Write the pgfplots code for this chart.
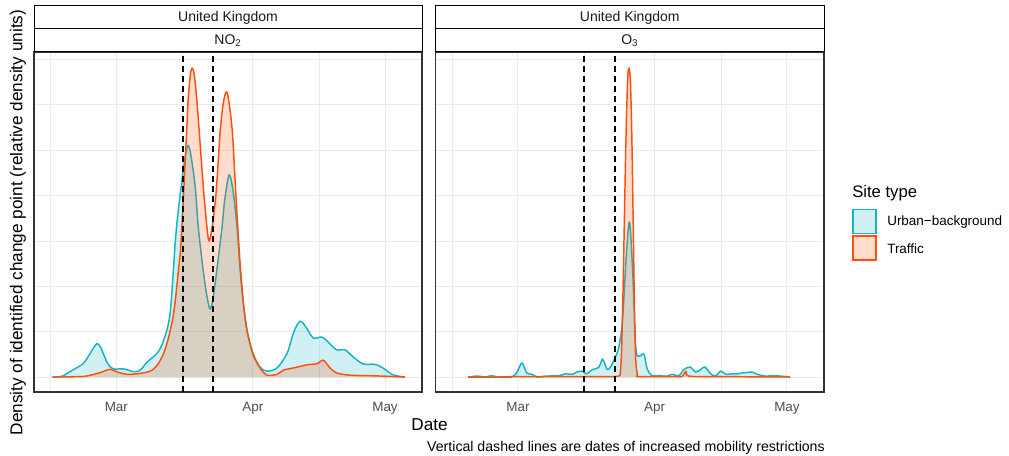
\documentclass[border=0pt]{standalone}
\usepackage{fontspec}
\setmainfont{Liberation Sans}
\usepackage{pgfplots}
\pgfplotsset{compat=1.18}
\usepackage{pgfplotstable}

\definecolor{cyanline}{RGB}{20,180,196}
\definecolor{orangeline}{RGB}{255,80,10}
\definecolor{gridc}{RGB}{235,235,235}
\definecolor{borderc}{RGB}{51,51,51}
\definecolor{tickc}{RGB}{77,77,77}
\definecolor{stripc}{RGB}{26,26,26}

% x = days since 1 March 2020, y = relative density
\pgfplotstableread{
x y
-14.5 0
-12.3 0.02
-10 0.15
-7.5 0.3
-5.9 0.53
-4.5 0.73
-3.6 0.66
-2 0.3
-0.7 0.18
1.6 0.18
3.9 0.12
5.4 0.15
7 0.33
9.3 0.53
10.7 0.8
12.2 1.4
13.4 3.0
14.1 3.7
15.2 4.56
15.8 4.95
16.3 5.1
16.9 4.9
17.9 4.2
18.6 3.3
19.7 2.36
20.6 1.76
21.3 1.5
22 1.76
23.1 2.58
24 3.3
24.6 3.9
25.6 4.45
26.5 4.1
27.4 3.3
28.1 2.36
28.8 1.63
29.7 1.03
31 0.53
32.6 0.22
34.2 0.13
36.5 0.2
38.8 0.53
40.2 0.97
41.7 1.23
43.2 1.08
44.7 0.86
46.7 0.88
48.1 0.77
50 0.6
51.9 0.6
53.7 0.45
56 0.29
58.7 0.28
60.5 0.2
62.8 0.05
65.5 0
}\noUrban

\pgfplotstableread{
x y
-14.5 0
-8 0.01
-5.9 0.04
-3.6 0.1
-1.4 0.17
0.2 0.11
2.5 0.06
5.4 0.08
8.1 0.15
10 0.37
11.5 0.74
13 1.4
14.1 2.36
14.7 3.0
15.9 5.28
16.3 6.1
16.8 6.65
17.2 6.8
17.7 6.65
18.4 5.95
19.5 4.5
20.2 3.68
21.1 3.0
22.5 3.9
23.6 5.44
24.4 6.1
25.2 6.25
26.3 5.44
27.2 3.9
28.1 2.5
29 1.5
29.7 1.0
31 0.5
32.6 0.2
34.2 0.04
36.5 0.06
37.9 0.15
40.2 0.2
42.4 0.25
44 0.28
45.5 0.29
47 0.37
48.5 0.2
50 0.09
53 0.04
57 0.03
60.5 0.02
65.5 0
}\noTraffic

\pgfplotstableread{
x y
-11.3 0
-9.3 0.02
-7.3 0
-6.1 0.03
-4.3 0
-1.4 0
-0.2 0.11
0.9 0.31
2.0 0.09
3.2 0.06
4.3 0
6.3 0.02
9.3 0.03
10.8 0.07
12.3 0.06
13.4 0.11
14.5 0.13
15.6 0.07
16.8 0.16
18.3 0.21
19.2 0.39
20.2 0.17
20.9 0.21
22 0.42
22.9 0.67
23.7 1.25
24.6 2.72
25.3 3.41
26.0 2.35
26.7 0.67
27.3 0.46
27.9 0.48
28.6 0.50
29.3 0.18
30.4 0.03
32 0.03
33.8 0.02
34.9 0.06
36.5 0.03
37.6 0.16
39 0.22
40.3 0.11
41.5 0.17
42.4 0.22
43.8 0.06
44.9 0.03
46 0.13
47.2 0.06
48.5 0.07
49.7 0.07
50.8 0.09
51.9 0.1
53.1 0.11
54.2 0.06
56.2 0.02
57.6 0.03
59.6 0.02
61.7 0
}\oUrban

\pgfplotstableread{
x y
-11.3 0
-5 0.0
0 0.01
10 0.01
20 0.01
22.8 0.02
23.2 0.1
23.5 0.6
23.8 1.8
24.1 3.3
24.5 5.3
24.9 6.6
25.2 6.8
25.5 6.5
25.8 5.4
26.1 3.6
26.4 1.6
26.7 0.4
27.1 0.05
27.5 0.01
36 0.01
37.3 0.02
38.1 0.12
38.8 0.02
45 0.01
61.7 0
}\oTraffic

\pgfplotsset{
  panel/.style={
    scale only axis, height=255pt,
    xmin=-18.7, xmax=69.4, ymin=-0.33, ymax=7.16,
    xtick={0,31,61}, xticklabels={Mar,Apr,May},
    minor xtick={-15,15,46},
    ytick={0,2,4,6}, minor ytick={1,3,5,7}, yticklabels={},
    grid=both,
    major grid style={draw=gridc, line width=0.75pt},
    minor grid style={draw=gridc, line width=0.45pt},
    major tick length=0pt, minor tick length=0pt,
    axis line style={draw=borderc, line width=0.8pt},
    xticklabel style={font=\fontsize{10.1}{12}\selectfont, text=tickc, yshift=-4pt},
  },
  ufill/.style={draw=none, fill=cyanline, fill opacity=0.2, smooth, tension=0.5},
  uline/.style={draw=cyanline, line width=1.1pt, smooth, tension=0.5},
  tfill/.style={draw=none, fill=orangeline, fill opacity=0.2, smooth, tension=0.5},
  tline/.style={draw=orangeline, line width=1.1pt, smooth, tension=0.5},
  vdash/.style={black, line width=1.3pt, dash pattern=on 4.5pt off 3pt},
}

\begin{document}
\begin{tikzpicture}
\useasboundingbox (0,0) rectangle (756.75pt,-342pt);

\begin{axis}[panel, at={(25.5pt,-294pt)}, anchor=south west, width=291pt]
\addplot[ufill] table {\noUrban} \closedcycle;
\addplot[uline] table {\noUrban};
\addplot[tfill] table {\noTraffic} \closedcycle;
\addplot[tline] table {\noTraffic};
\addplot[vdash] coordinates {(15.1,-0.33) (15.1,7.16)};
\addplot[vdash] coordinates {(22,-0.33) (22,7.16)};
\end{axis}

\begin{axis}[panel, at={(326.625pt,-294pt)}, anchor=south west, width=291.375pt]
\addplot[ufill] table {\oUrban} \closedcycle;
\addplot[uline] table {\oUrban};
\addplot[tfill] table {\oTraffic} \closedcycle;
\addplot[tline] table {\oTraffic};
\addplot[vdash] coordinates {(15,-0.33) (15,7.16)};
\addplot[vdash] coordinates {(22,-0.33) (22,7.16)};
\end{axis}

\begin{scope}[x=0.75pt,y=-0.75pt]
% strips
\draw[black, line width=0.75pt, fill=white] (34,6) rectangle (422,29);
\draw[black, line width=0.75pt, fill=white] (34,29) rectangle (422,52);
\draw[black, line width=0.75pt, fill=white] (435.5,6) rectangle (824,29);
\draw[black, line width=0.75pt, fill=white] (435.5,29) rectangle (824,52);
\node[font=\fontsize{10.5}{12}\selectfont, text=stripc] at (228,17.5) {United Kingdom};
\node[font=\fontsize{10.5}{12}\selectfont, text=stripc] at (228,40.5) {NO\textsubscript{2}};
\node[font=\fontsize{10.5}{12}\selectfont, text=stripc] at (629.75,17.5) {United Kingdom};
\node[font=\fontsize{10.5}{12}\selectfont, text=stripc] at (629.75,40.5) {O\textsubscript{3}};
% axis titles
\node[font=\fontsize{12.9}{15}\selectfont, rotate=90] at (18,222.5) {Density of identified change point (relative density units)};
\node[font=\fontsize{12.9}{15}\selectfont] at (429.5,425) {Date};
\node[font=\fontsize{10.6}{13}\selectfont, anchor=east, inner sep=0pt] at (825,448) {Vertical dashed lines are dates of increased mobility restrictions};
% legend
\node[font=\fontsize{12.5}{15}\selectfont, anchor=west, inner sep=0pt] at (852,193) {Site type};
\draw[draw=cyanline, line width=1.4pt, fill=cyanline!20] (853,209.5) rectangle (876,233.5);
\draw[draw=orangeline, line width=1.4pt, fill=orangeline!20] (853,236) rectangle (876,260);
\node[font=\fontsize{10.1}{12}\selectfont, anchor=west, inner sep=0pt] at (887,222) {Urban−background};
\node[font=\fontsize{10.1}{12}\selectfont, anchor=west, inner sep=0pt] at (887,249) {Traffic};
\end{scope}
\end{tikzpicture}
\end{document}
